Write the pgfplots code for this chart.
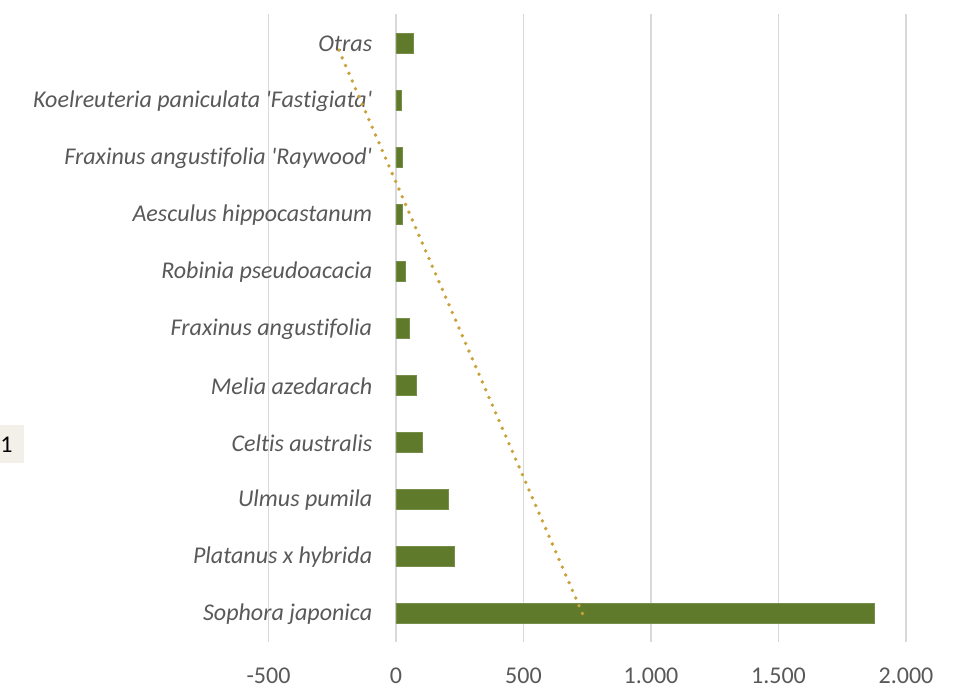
\documentclass[border=0pt]{standalone}
\usepackage{fontspec}
\setmainfont{Carlito}[Ligatures={NoCommon,TeX}]
\usepackage{pgfplots}
\pgfplotsset{compat=1.18}
\definecolor{barG}{HTML}{5E7A2A}
\definecolor{trendC}{HTML}{C9A23C}
\definecolor{gridC}{HTML}{D9D9D9}
\definecolor{txtC}{HTML}{595959}
\definecolor{boxC}{HTML}{F3F0EA}
\begin{document}
\begin{tikzpicture}
\fontsize{12}{14}\selectfont
\begin{axis}[
  scale only axis,
  width=318.5pt, height=313.5pt,
  xmin=-500, xmax=2000,
  ymin=-0.5, ymax=10.5,
  clip=false,
  axis line style={draw=none},
  xtick={-500,0,500,1000,1500,2000},
  xticklabels={-500,0,500,1.000,1.500,2.000},
  ytick={0,1,2,3,4,5,6,7,8,9,10},
  yticklabels={Sophora japonica,Platanus x hybrida,Ulmus pumila,Celtis australis,Melia azedarach,Fraxinus angustifolia,Robinia pseudoacacia,Aesculus hippocastanum,Fraxinus angustifolia \textquotesingle Raywood\textquotesingle,Koelreuteria paniculata \textquotesingle Fastigiata\textquotesingle,Otras},
  major tick length=0pt,
  xmajorgrids,
  grid style={gridC, line width=0.75pt},
  xticklabel style={txtC, font=\fontsize{12}{14}\selectfont, yshift=-8.5pt},
  yticklabel style={txtC, font=\fontsize{12}{14}\selectfont\itshape, xshift=56pt, yshift=-0.5pt},
]
\fill[boxC] (axis cs:-1552.9,2.632) rectangle (axis cs:-1459,3.298);
\node[anchor=west, inner sep=0pt, font=\fontsize{12}{14}\selectfont] at (axis cs:-1552.9,2.965) {1};
\path (axis cs:-1552.9,-1.316) rectangle (axis cs:2235.3,10.754);
\addplot[xbar, bar width=10pt, bar shift=0pt, fill=barG, draw=barG!85!white, line width=0.4pt]
  coordinates {(1878,0) (231,1) (204,2) (102,3) (82,4) (51,5) (35,6) (27,7) (24,8) (20,9) (67,10)};
\addplot[trendC, line width=1.9pt, line cap=round, dash pattern=on 0pt off 4.2pt]
  coordinates {(731,0) (-236,10)};
\end{axis}
\end{tikzpicture}
\end{document}
